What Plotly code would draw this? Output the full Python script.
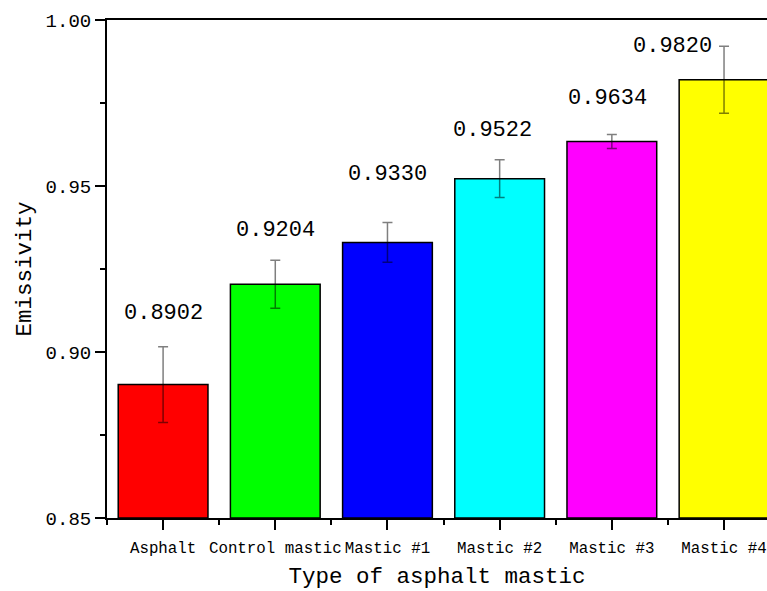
import plotly.graph_objects as go

categories = ["Asphalt", "Control mastic", "Mastic #1", "Mastic #2", "Mastic #3", "Mastic #4"]
emissivity = [0.8902, 0.9204, 0.9330, 0.9522, 0.9634, 0.9820]
error = [0.0114, 0.0072, 0.0060, 0.0057, 0.0021, 0.0101]
tick_vals_y = [0.85, 0.90, 0.95, 1.00]

colors = ["#FF0000", "#00FF00", "#0000FF", "#00FFFF", "#FF00FF", "#FFFF00"]
label_yshift = [33, 30, 48, 29, 36, 0]
label_xshift = [0, 0, 0, -7, -4, -52]

FONT = "Liberation Mono"
BASE = 0.85
xpos = list(range(len(categories)))

fig = go.Figure()
fig.add_trace(go.Bar(
    x=xpos, y=[v - BASE for v in emissivity], base=BASE, width=0.8,
    marker=dict(color=colors, line=dict(color="black", width=1.5)),
    error_y=dict(type="data", array=error, visible=True,
                 color="rgba(0,0,0,0.5)", thickness=1.5, width=5),
    showlegend=False, cliponaxis=True,
))

for i, (v, e) in enumerate(zip(emissivity, error)):
    fig.add_annotation(
        x=xpos[i], y=v + e, text=f"{v:.4f}", showarrow=False,
        xref="x", yref="y", yanchor="middle",
        yshift=label_yshift[i], xshift=label_xshift[i],
        font=dict(family=FONT, size=22, color="black"),
    )

fig.update_layout(
    width=767, height=591,
    margin=dict(l=107, r=0, t=20, b=73, autoexpand=False),
    paper_bgcolor="white", plot_bgcolor="white",
    font=dict(family=FONT, color="black"),
)
fig.update_xaxes(
    range=[-0.5, 5.383], automargin=False,
    tickmode="array", tickvals=xpos, ticktext=categories,
    tickangle=0, ticklabeloverflow="allow",
    ticks="outside", ticklen=10, tickwidth=1.5, tickcolor="black",
    minor=dict(tickmode="array", tickvals=[-0.5, 0.5, 1.5, 2.5, 3.5, 4.5],
               ticks="outside", ticklen=5, tickwidth=1.5, tickcolor="black"),
    showline=True, linecolor="black", linewidth=2, mirror=True,
    showgrid=False, zeroline=False,
    tickfont=dict(family=FONT, size=15.8),
    ticklabelstandoff=4,
    title=dict(text="Type of asphalt mastic", font=dict(family=FONT, size=22.5), standoff=10),
)
fig.update_yaxes(
    range=[0.85, 1.00], automargin=False,
    tickmode="array", tickvals=tick_vals_y, ticktext=[f"{t:.2f}" for t in tick_vals_y],
    ticks="outside", ticklen=10, tickwidth=1.5, tickcolor="black",
    minor=dict(tick0=0.875, dtick=0.05, ticks="outside", ticklen=5, tickwidth=1.5, tickcolor="black"),
    showline=True, linecolor="black", linewidth=2, mirror=False,
    showgrid=False, zeroline=False,
    tickfont=dict(family=FONT, size=19),
    title=dict(text="Emissivity", font=dict(family=FONT, size=22.5), standoff=8),
)

fig.write_html("out.html")
